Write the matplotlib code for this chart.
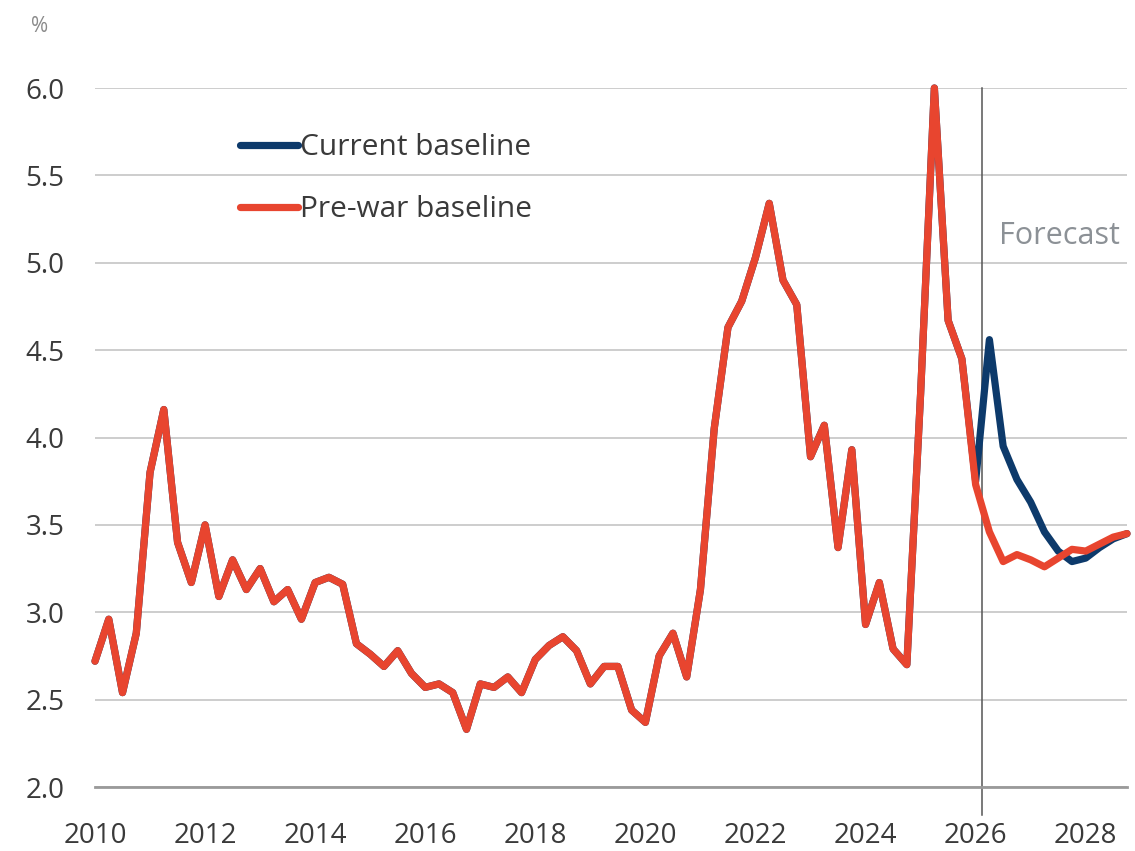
import numpy as np
import matplotlib
matplotlib.use("Agg")
import matplotlib.pyplot as plt

plt.rcParams['font.family'] = ['Open Sans', 'DejaVu Sans']

# quarterly data, 2010Q1 .. 2025Q4 (shared history)
history = [2.72, 2.96, 2.54, 2.88, 3.80, 4.16, 3.40, 3.17,
           3.50, 3.09, 3.30, 3.13, 3.25, 3.06, 3.13, 2.96,
           3.17, 3.20, 3.16, 2.82, 2.76, 2.69, 2.78, 2.65,
           2.57, 2.59, 2.54, 2.33, 2.59, 2.57, 2.63, 2.54,
           2.73, 2.81, 2.86, 2.78, 2.59, 2.69, 2.69, 2.44,
           2.37, 2.75, 2.88, 2.63, 3.13, 4.05, 4.63, 4.78,
           5.03, 5.34, 4.90, 4.76, 3.89, 4.07, 3.37, 3.93,
           2.93, 3.17, 2.79, 2.70, 4.25, 6.00, 4.67, 4.45]
# forecast quarters, 2026Q1 .. 2028Q4
prewar_forecast = [3.73, 3.46, 3.29, 3.33, 3.30, 3.26, 3.31, 3.36, 3.35, 3.39, 3.43, 3.45]
current_forecast = [3.75, 4.56, 3.95, 3.76, 3.63, 3.46, 3.35, 3.29, 3.31, 3.37, 3.42, 3.45]

current = np.array(history + current_forecast)
prewar = np.array(history + prewar_forecast)
quarters = 2010 + np.arange(len(prewar)) / 4

year_ticks = list(range(2010, 2029, 2))
y_ticks = [2.0, 2.5, 3.0, 3.5, 4.0, 4.5, 5.0, 5.5, 6.0]

navy = '#0d3a6b'
red = '#e8452f'
text_col = '#3a3a3a'

fig = plt.figure(figsize=(11.35, 8.51), dpi=100)
ax = fig.add_axes([95 / 1135, 1 - 787 / 851, (1127 - 95) / 1135, (787 - 88) / 851])

ax.plot(quarters, current, color=navy, lw=5.2, label='Current baseline',
        solid_joinstyle='round', solid_capstyle='round', clip_on=False, zorder=3)
ax.plot(quarters, prewar, color=red, lw=5.2, label='Pre-war baseline',
        solid_joinstyle='round', solid_capstyle='round', clip_on=False, zorder=4)

# forecast marker line
ax.plot([2026.12, 2026.12], [1.84, 6.0], color='#555555', lw=1.1, clip_on=False, zorder=2)

ax.set_xlim(2010, 2028.75)
ax.set_ylim(2.0, 6.0)
ax.set_xticks(year_ticks)
ax.set_xticklabels([str(y) for y in year_ticks])
ax.set_yticks(y_ticks)
ax.set_yticklabels([f'{v:.1f}' for v in y_ticks])
ax.tick_params(axis='both', length=0, labelsize=20, colors=text_col)
ax.tick_params(axis='y', pad=22)
ax.tick_params(axis='x', pad=25)

ax.grid(axis='y', color='#c9c9c9', lw=1.3)
ax.set_axisbelow(True)
for side in ['left', 'right', 'top']:
    ax.spines[side].set_visible(False)
ax.spines['bottom'].set_color('#9a9a9a')
ax.spines['bottom'].set_linewidth(2)

leg = ax.legend(loc='upper left', bbox_to_anchor=(240 / 1135, 1 - 133 / 851),
                bbox_transform=fig.transFigure, frameon=False, fontsize=21.5,
                handlelength=1.95, handletextpad=0.05, labelspacing=1.12,
                borderpad=0, borderaxespad=0)
for t in leg.get_texts():
    t.set_color(text_col)

fig.text(999 / 1135, 1 - 236 / 851, 'Forecast', color='#8c9196', fontsize=22,
         ha='left', va='center')
fig.text(40 / 1135, 1 - 26 / 851, '%', color='#8a8a8a', fontsize=15,
         ha='center', va='center')

fig.savefig('out.png', dpi=100)
